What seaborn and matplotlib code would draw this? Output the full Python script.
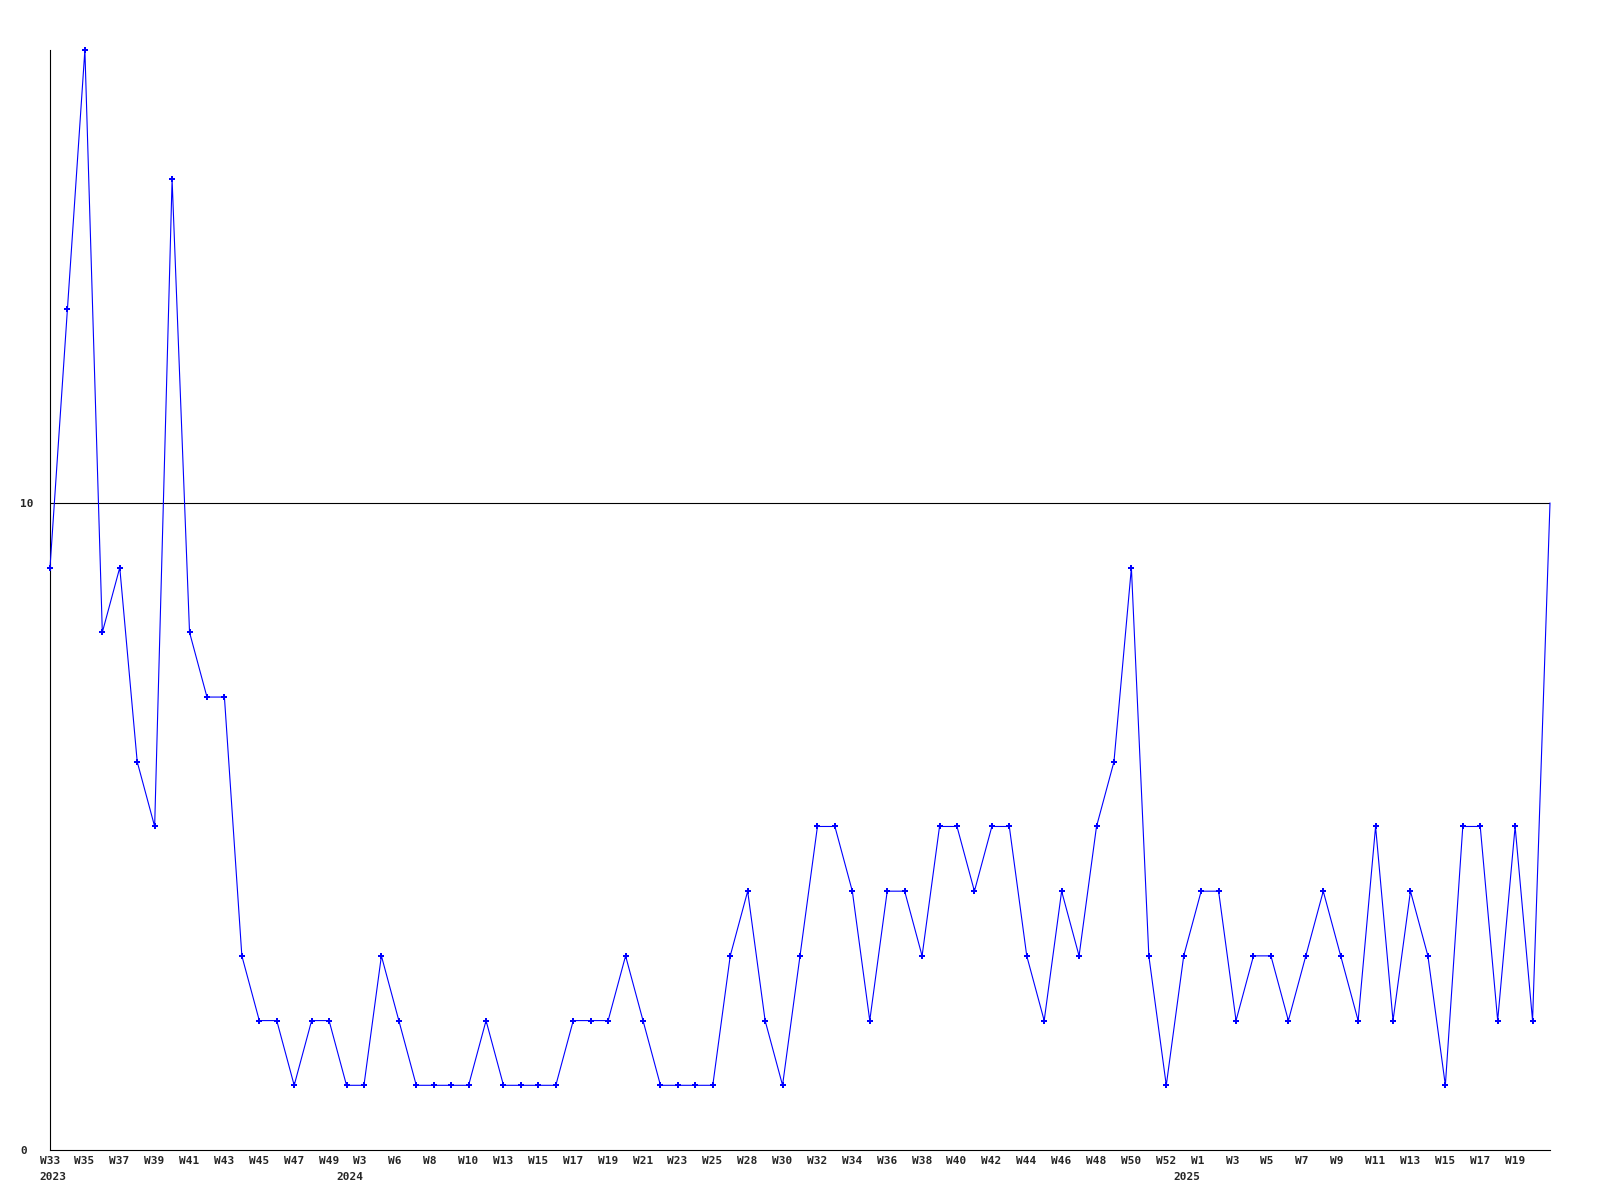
import matplotlib
matplotlib.use("Agg")
import matplotlib.pyplot as plt
import matplotlib.transforms as mtransforms
import seaborn as sns
import pandas as pd

# ---- data ----
values = [9, 13, 17, 8, 9, 6, 5, 15, 8, 7, 7, 3, 2, 2, 1, 2, 2, 1, 1, 3,
          2, 1, 1, 1, 1, 2, 1, 1, 1, 1, 2, 2, 2, 3, 2, 1, 1, 1, 1, 3,
          4, 2, 1, 3, 5, 5, 4, 2, 4, 4, 3, 5, 5, 4, 5, 5, 3, 2, 4, 3,
          5, 6, 9, 3, 1, 3, 4, 4, 2, 3, 3, 2, 3, 4, 3, 2, 5, 2, 4, 3,
          1, 5, 5, 2, 5, 2, 10]
week_tick_idx = [0, 2, 4, 6, 8, 10, 12, 14, 16, 18, 20, 22, 24, 26, 28, 30,
                 32, 34, 36, 38, 40, 42, 44, 46, 48, 50, 52, 54, 56, 58, 60,
                 62, 64, 66, 68, 70, 72, 74, 76, 78, 80, 82, 84]
week_labels = ["W33", "W35", "W37", "W39", "W41", "W43", "W45", "W47", "W49",
               "W3", "W6", "W8", "W10", "W13", "W15", "W17", "W19", "W21",
               "W23", "W25", "W28", "W30", "W32", "W34", "W36", "W38", "W40",
               "W42", "W44", "W46", "W48", "W50", "W52", "W1", "W3", "W5",
               "W7", "W9", "W11", "W13", "W15", "W17", "W19"]
year_tick_idx = [0, 17, 65]
year_labels = ["2023", "2024", "2025"]
y_ticks = [0, 10]
y_labels = ["0", "10"]

df = pd.DataFrame({"idx": list(range(len(values))), "value": values})

sns.set_style("white")
plt.rcParams["font.family"] = ["DejaVu Sans Mono", "DejaVu Sans"]

W, H = 1600, 1200
fig = plt.figure(figsize=(16, 12), dpi=100)
ax = fig.add_axes([50 / W, 1 - 1150 / H, 1500 / W, 1100 / H])

blue = "#0000ff"
sns.lineplot(data=df, x="idx", y="value", ax=ax, color=blue, linewidth=0.8,
             clip_on=False, zorder=3)
sns.scatterplot(data=df.iloc[:-1], x="idx", y="value", ax=ax, color=blue,
                marker="P", s=14, linewidth=0, clip_on=False, zorder=4)

ax.axhline(10, color="black", linewidth=0.8, zorder=2)

ax.set_xlim(0, len(values) - 1)
ax.set_ylim(0, 17)
ax.set_xlabel("")
ax.set_ylabel("")

for side in ["top", "right"]:
    ax.spines[side].set_visible(False)
for side in ["left", "bottom"]:
    ax.spines[side].set_color("black")
    ax.spines[side].set_linewidth(0.8)

# x ticks: week labels (major) and year labels (minor)
ax.xaxis.remove_overlapping_locs = False
ax.set_xticks(week_tick_idx)
ax.set_xticklabels(week_labels)
ax.set_xticks(year_tick_idx, minor=True)
ax.set_xticklabels(year_labels, minor=True)
ax.tick_params(axis="x", which="major", length=0, pad=4.0, labelsize=8)
ax.tick_params(axis="x", which="minor", length=0, pad=15.5, labelsize=8)

offset = mtransforms.ScaledTranslation(-10.5 / 100, 0, fig.dpi_scale_trans)
for lbl in ax.get_xticklabels(which="both"):
    lbl.set_horizontalalignment("left")
    lbl.set_fontweight("bold")
    lbl.set_transform(lbl.get_transform() + offset)

# y ticks
ax.set_yticks(y_ticks)
ax.set_yticklabels(y_labels)
ax.tick_params(axis="y", length=0, pad=30 * 0.72, labelsize=8)
for lbl in ax.get_yticklabels():
    lbl.set_horizontalalignment("left")
    lbl.set_fontweight("bold")

ax.grid(False)
fig.savefig("out.png", dpi=100, facecolor="white")
